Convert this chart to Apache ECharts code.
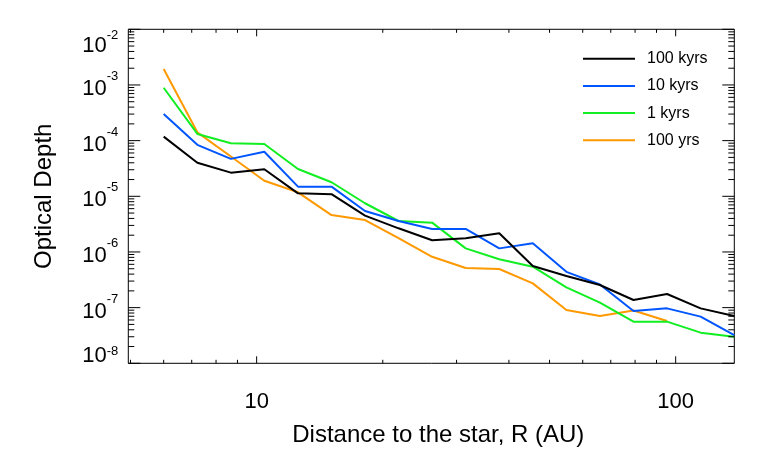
<!DOCTYPE html>
<html>
<head>
<meta charset="utf-8">
<script src="https://cdn.jsdelivr.net/npm/echarts@6/dist/echarts.min.js"></script>
<style>
  html, body { margin: 0; padding: 0; background: #fff; }
  #chart { width: 757px; height: 465px; }
</style>
</head>
<body>
<div id="chart"></div>
<script>
// radius grid (AU), log spaced
var radius = [6.00, 7.22, 8.68, 10.43, 12.55, 15.09, 18.14, 21.81, 26.23, 31.54,
              37.93, 45.61, 54.85, 65.95, 79.31, 95.37, 114.7, 137.9];

// optical depth per age
var tau100kyr = [1.18e-4, 4.0e-5, 2.66e-5, 3.06e-5, 1.13e-5, 1.09e-5, 4.5e-6, 2.66e-6, 1.62e-6, 1.76e-6,
                 2.17e-6, 5.6e-7, 3.7e-7, 2.55e-7, 1.37e-7, 1.76e-7, 9.7e-8, 7.1e-8];
var tau10kyr  = [3.0e-4, 8.4e-5, 4.7e-5, 6.3e-5, 1.49e-5, 1.49e-5, 5.45e-6, 3.6e-6, 2.59e-6, 2.59e-6,
                 1.16e-6, 1.43e-6, 4.4e-7, 2.6e-7, 8.7e-8, 9.7e-8, 6.9e-8, 3.2e-8];
var tau1kyr   = [8.9e-4, 1.32e-4, 8.95e-5, 8.7e-5, 3.1e-5, 1.79e-5, 7.5e-6, 3.6e-6, 3.36e-6, 1.16e-6,
                 7.4e-7, 5.44e-7, 2.32e-7, 1.23e-7, 5.6e-8, 5.6e-8, 3.55e-8, 3.0e-8];
var tau100yr  = [1.94e-3, 1.41e-4, 5.2e-5, 1.9e-5, 1.18e-5, 4.6e-6, 3.75e-6, 1.78e-6, 8.2e-7, 5.15e-7,
                 4.95e-7, 2.73e-7, 9.1e-8, 7.1e-8, 8.9e-8, 5.75e-8];

var seriesNames = ['100 kyrs', '10 kyrs', '1 kyrs', '100 yrs'];
var seriesColors = ['#000000', '#0055ff', '#11ee22', '#ff9900'];

// tick positions
var xMajorTicks = [10, 100];
var xMinorTicks = [5, 6, 7, 8, 9, 20, 30, 40, 50, 60, 70, 80, 90];
var yDecades = [1e-8, 1e-7, 1e-6, 1e-5, 1e-4, 1e-3, 1e-2];
var yMantissa = [2, 3, 4, 5, 6, 7, 8, 9];

var FONT = '"Liberation Sans", Helvetica, Arial, sans-serif';

function pairs(xs, ys) {
    return ys.map(function (v, i) { return [xs[i], v]; });
}

// tick data: [x, y, major?]
var xTickData = xMajorTicks.map(function (v) { return [v, 1e-5, 1]; })
    .concat(xMinorTicks.map(function (v) { return [v, 1e-5, 0]; }));
var yTickData = [];
yDecades.forEach(function (d, k) {
    yTickData.push([10, d, 1]);
    if (k < yDecades.length - 1) {
        yMantissa.forEach(function (m) { yTickData.push([10, d * m, 0]); });
    }
});

function tickLine(x1, y1, x2, y2) {
    return { type: 'line', shape: { x1: x1, y1: y1, x2: x2, y2: y2 },
             style: { stroke: '#000', lineWidth: 1 } };
}

var myChart = echarts.init(document.getElementById('chart'));
var allTau = [tau100kyr, tau10kyr, tau1kyr, tau100yr];

var series = allTau.map(function (t, i) {
    return {
        name: seriesNames[i],
        type: 'line',
        data: pairs(radius, t),
        showSymbol: false,
        symbol: 'none',
        lineStyle: { color: seriesColors[i], width: 2 },
        itemStyle: { color: seriesColors[i] },
        z: 5 - i
    };
});

// box ticks on all four sides, pointing in
series.push({
    type: 'custom',
    silent: true,
    data: xTickData,
    renderItem: function (params, api) {
        var cs = params.coordSys;
        var px = api.coord([api.value(0), 1e-5])[0];
        var len = api.value(2) ? 7 : 3.5;
        var bot = cs.y + cs.height, top = cs.y;
        return { type: 'group', children: [
            tickLine(px, bot, px, bot - len),
            tickLine(px, top, px, top + len)
        ] };
    },
    z: 10
});
series.push({
    type: 'custom',
    silent: true,
    data: yTickData,
    renderItem: function (params, api) {
        var cs = params.coordSys;
        var py = api.coord([10, api.value(1)])[1];
        var len = api.value(2) ? 12 : 6;
        var l = cs.x, r = cs.x + cs.width;
        return { type: 'group', children: [
            tickLine(l, py, l + len, py),
            tickLine(r, py, r - len, py)
        ] };
    },
    z: 10
});

var option = {
    backgroundColor: '#ffffff',
    animation: false,
    grid: {
        left: 128.3, top: 29.3, width: 606, height: 334,
        show: true, borderColor: '#000', borderWidth: 1
    },
    legend: {
        data: seriesNames,
        orient: 'vertical',
        left: 583, top: 50.7,
        padding: 0,
        itemWidth: 52, itemHeight: 14, itemGap: 11.2,
        icon: 'path://M0,6 L52,6 L52,8 L0,8 Z',
        textStyle: { fontFamily: FONT, fontSize: 16, color: '#000', padding: [0, 0, 0, 7] }
    },
    xAxis: {
        type: 'log',
        logBase: 10,
        min: 4.94,
        max: 138,
        name: 'Distance to the star, R (AU)',
        nameLocation: 'middle',
        nameGap: 60,
        nameTextStyle: { fontFamily: FONT, fontSize: 24, color: '#000', padding: [0, 0, 0, 14] },
        axisLine: { show: false },
        axisTick: { show: false },
        splitLine: { show: false },
        minorTick: { show: false },
        axisLabel: {
            fontFamily: FONT, fontSize: 22, color: '#000', margin: 28,
            showMinLabel: false, showMaxLabel: false,
            formatter: function (v) {
                var e = Math.log10(v);
                return Math.abs(e - Math.round(e)) < 1e-6 ? String(Math.round(v)) : '';
            }
        }
    },
    yAxis: {
        type: 'log',
        logBase: 10,
        min: 1e-8,
        max: 1e-2,
        interval: 1,
        name: 'Optical Depth',
        nameLocation: 'middle',
        nameGap: 72,
        nameTextStyle: { fontFamily: FONT, fontSize: 24, color: '#000' },
        axisLine: { show: false },
        axisTick: { show: false },
        splitLine: { show: false },
        axisLabel: {
            margin: 10,
            formatter: function (v) {
                var e = Math.round(Math.log10(v));
                // end labels are kept inside the box, as in the original plot
                if (e === -2) return '{bt|10}{et|' + e + '}';
                if (e === -8) return '{bb|10}{eb|' + e + '}';
                return '{b|10}{e|' + e + '}';
            },
            rich: {
                b: { fontFamily: FONT, fontSize: 22, color: '#000', lineHeight: 30, verticalAlign: 'bottom' },
                e: { fontFamily: FONT, fontSize: 13, color: '#000', lineHeight: 13, verticalAlign: 'top' },
                bt: { fontFamily: FONT, fontSize: 22, color: '#000', lineHeight: 56, verticalAlign: 'bottom' },
                et: { fontFamily: FONT, fontSize: 13, color: '#000', lineHeight: 13, verticalAlign: 'top', padding: [28, 0, 0, 0] },
                bb: { fontFamily: FONT, fontSize: 22, color: '#000', lineHeight: 36, verticalAlign: 'top' },
                eb: { fontFamily: FONT, fontSize: 13, color: '#000', lineHeight: 13, verticalAlign: 'top' }
            }
        }
    },
    series: series
};
myChart.setOption(option);
</script>
</body>
</html>
